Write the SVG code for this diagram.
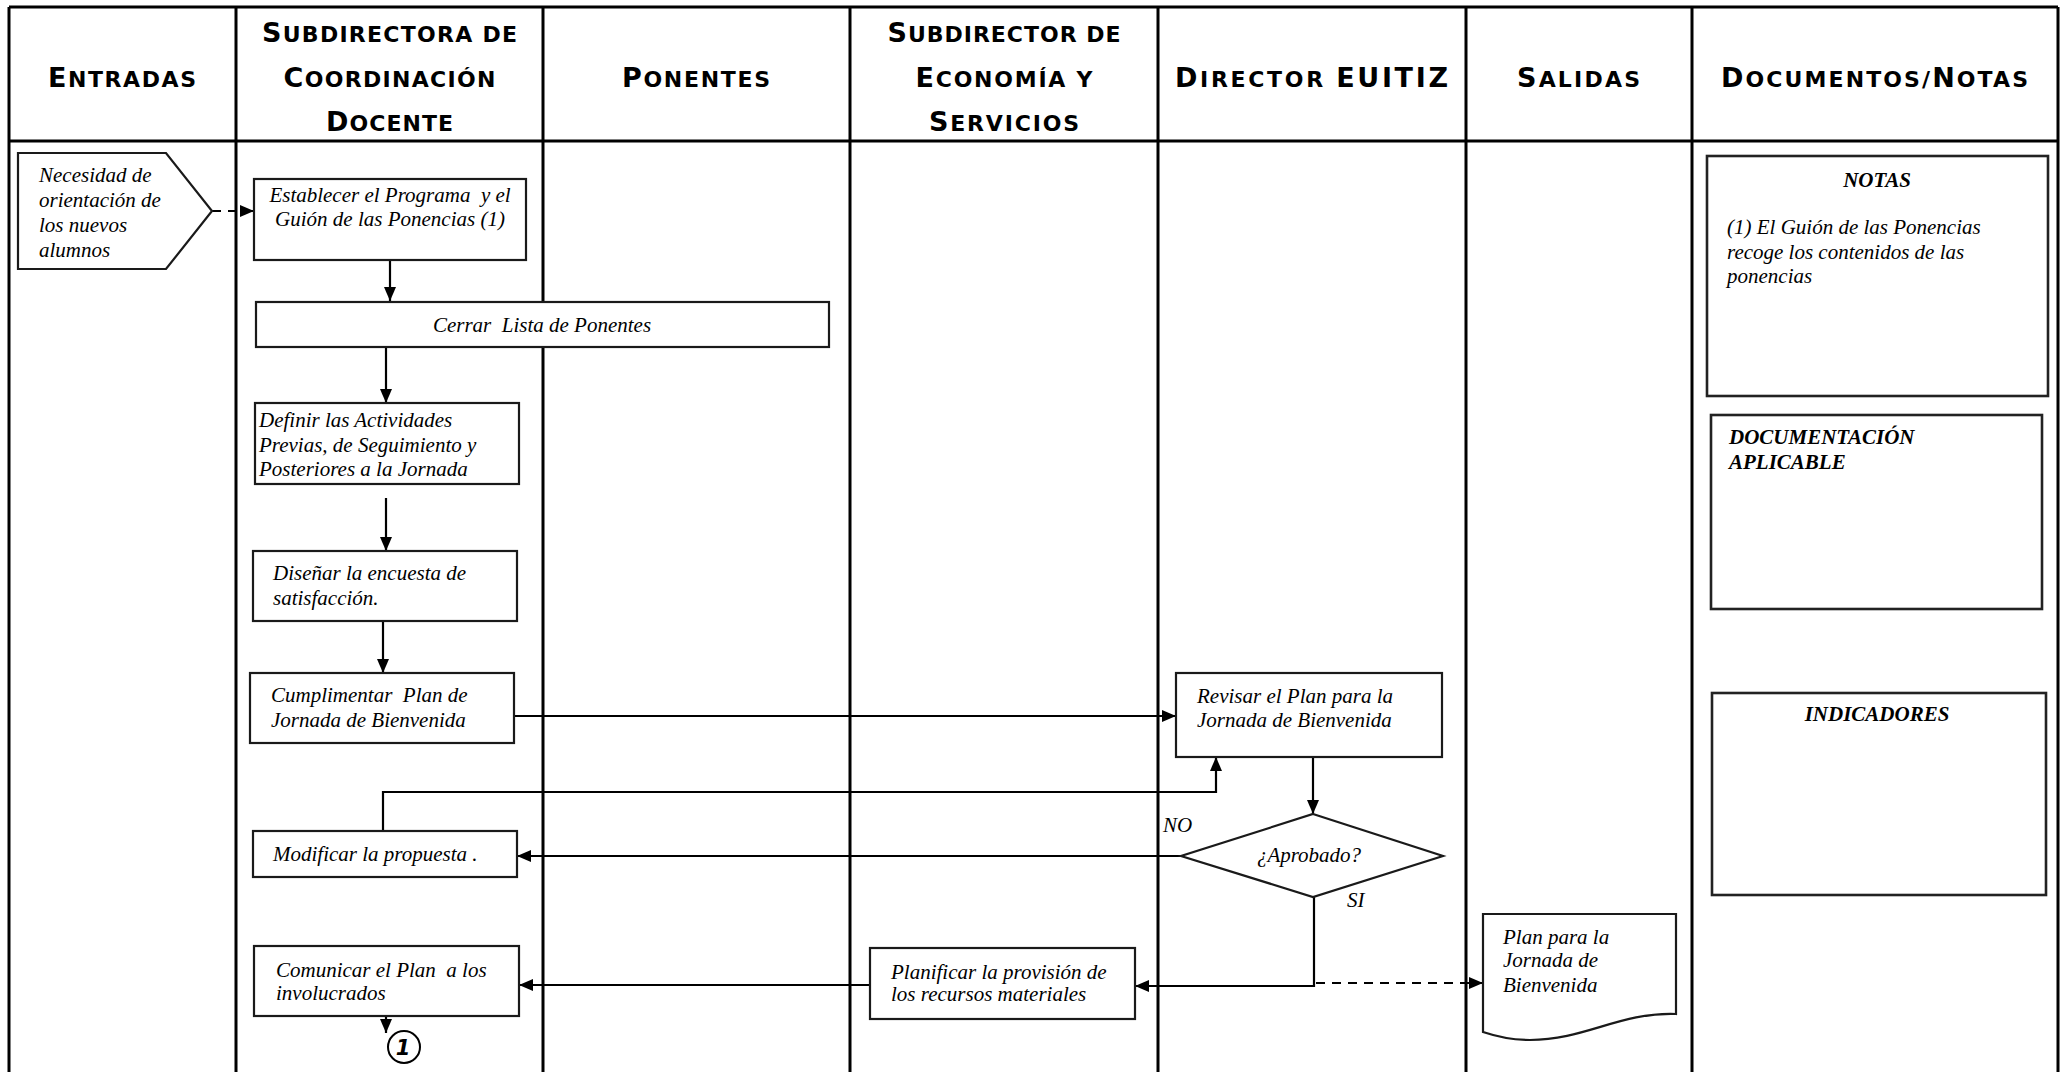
<svg xmlns="http://www.w3.org/2000/svg" width="2064" height="1072" viewBox="0 0 2064 1072">
<defs>
<style>
.grid{stroke:#000;stroke-width:3;fill:none}
.hd{font-family:"DejaVu Sans","Liberation Sans",sans-serif;font-weight:bold;font-size:22px;fill:#000;text-anchor:middle}
.big{font-size:27px}
.box{fill:#fff;stroke:#1a1a1a;stroke-width:2.2}
.nbox{fill:#fff;stroke:#222;stroke-width:2.6}
.t{font-family:"Liberation Serif","Times New Roman",serif;font-style:italic;font-size:21px;fill:#000}
.tc{text-anchor:middle}
.tb{font-weight:bold}
.pre{white-space:pre}
.con{fill:none;stroke:#000;stroke-width:2.2}
.dash{stroke-dasharray:9,7}
</style>
<marker id="ah" viewBox="0 0 14 12" refX="14" refY="6" markerWidth="14" markerHeight="12" orient="auto" markerUnits="userSpaceOnUse">
<path d="M0,0 L14,6 L0,12 z" fill="#000"/>
</marker>
</defs>
<rect x="0" y="0" width="2064" height="1072" fill="#fff"/>

<g id="grid">
<line class="grid" x1="9" y1="7" x2="2058" y2="7"/>
<line class="grid" x1="9" y1="141" x2="2058" y2="141"/>
<line class="grid" x1="9" y1="7" x2="9" y2="1072"/>
<line class="grid" x1="236" y1="7" x2="236" y2="1072"/>
<line class="grid" x1="543" y1="7" x2="543" y2="1072"/>
<line class="grid" x1="850" y1="7" x2="850" y2="1072"/>
<line class="grid" x1="1158" y1="7" x2="1158" y2="1072"/>
<line class="grid" x1="1466" y1="7" x2="1466" y2="1072"/>
<line class="grid" x1="1692" y1="7" x2="1692" y2="1072"/>
<line class="grid" x1="2058" y1="7" x2="2058" y2="1072"/>
</g>

<g id="headers">
<text class="hd" x="122" y="87" textLength="148"><tspan class="big">E</tspan>NTRADAS</text>
<text class="hd" x="389.5" y="42" textLength="255"><tspan class="big">S</tspan>UBDIRECTORA DE</text>
<text class="hd" x="389.5" y="87" textLength="212"><tspan class="big">C</tspan>OORDINACIÓN</text>
<text class="hd" x="389.5" y="131" textLength="127"><tspan class="big">D</tspan>OCENTE</text>
<text class="hd" x="696" y="87" textLength="148"><tspan class="big">P</tspan>ONENTES</text>
<text class="hd" x="1004" y="42" textLength="233"><tspan class="big">S</tspan>UBDIRECTOR DE</text>
<text class="hd" x="1004" y="87" textLength="177"><tspan class="big">E</tspan>CONOMÍA Y</text>
<text class="hd" x="1004" y="131" textLength="150"><tspan class="big">S</tspan>ERVICIOS</text>
<text class="hd" x="1311.5" y="87" textLength="273"><tspan class="big">D</tspan>IRECTOR <tspan class="big">EUITIZ</tspan></text>
<text class="hd" x="1578.5" y="87" textLength="123"><tspan class="big">S</tspan>ALIDAS</text>
<text class="hd" x="1874.5" y="87" textLength="307"><tspan class="big">D</tspan>OCUMENTOS/<tspan class="big">N</tspan>OTAS</text>
</g>

<g id="connectors">
<path class="con dash" d="M212,211 L254,211" marker-end="url(#ah)"/>
<path class="con" d="M390,260 L390,301" marker-end="url(#ah)"/>
<path class="con" d="M386,347 L386,403" marker-end="url(#ah)"/>
<path class="con" d="M386,498 L386,551" marker-end="url(#ah)"/>
<path class="con" d="M383,621 L383,673" marker-end="url(#ah)"/>
<path class="con" d="M513,716 L1176,716" marker-end="url(#ah)"/>
<path class="con" d="M383,831 L383,792 L1216,792 L1216,757" marker-end="url(#ah)"/>
<path class="con" d="M1313,757 L1313,814" marker-end="url(#ah)"/>
<path class="con" d="M1181,856 L517,856" marker-end="url(#ah)"/>
<path class="con" d="M1314,897 L1314,986 L1135,986" marker-end="url(#ah)"/>
<path class="con dash" d="M1316,983 L1483,983" marker-end="url(#ah)"/>
<path class="con" d="M870,985 L519,985" marker-end="url(#ah)"/>
<path class="con" d="M386,1016 L386,1033" marker-end="url(#ah)"/>
<text class="t" x="1163" y="832">NO</text>
<text class="t" x="1347" y="907">SI</text>
</g>

<g id="n_necesidad">
<polygon class="box" points="18,153 166,153 212,211 166,269 18,269"/>
<text class="t" x="39" y="182">Necesidad de</text>
<text class="t" x="39" y="207">orientación de</text>
<text class="t" x="39" y="232">los nuevos</text>
<text class="t" x="39" y="257">alumnos</text>
</g>

<g id="n_establecer">
<rect class="box" x="254" y="179" width="272" height="81"/>
<text class="t tc pre" xml:space="preserve" x="390" y="202">Establecer el Programa  y el</text>
<text class="t tc" x="390" y="226">Guión de las Ponencias (1)</text>
</g>

<g id="n_cerrar">
<rect class="box" x="256" y="302" width="573" height="45"/>
<text class="t tc pre" xml:space="preserve" x="542" y="332">Cerrar  Lista de Ponentes</text>
</g>

<g id="n_definir">
<rect class="box" x="255" y="403" width="264" height="81"/>
<text class="t" x="259" y="427">Definir las Actividades</text>
<text class="t" x="259" y="452">Previas, de Seguimiento y</text>
<text class="t" x="259" y="476">Posteriores a la Jornada</text>
</g>

<g id="n_disenar">
<rect class="box" x="253" y="551" width="264" height="70"/>
<text class="t" x="273" y="580">Diseñar la encuesta de</text>
<text class="t" x="273" y="605">satisfacción.</text>
</g>

<g id="n_cumplimentar">
<rect class="box" x="250" y="673" width="264" height="70"/>
<text class="t pre" xml:space="preserve" x="271" y="702">Cumplimentar  Plan de</text>
<text class="t" x="271" y="727">Jornada de Bienvenida</text>
</g>

<g id="n_revisar">
<rect class="box" x="1176" y="673" width="266" height="84"/>
<text class="t" x="1197" y="703">Revisar el Plan para la</text>
<text class="t" x="1197" y="727">Jornada de Bienvenida</text>
</g>

<g id="n_aprobado">
<polygon class="box" points="1313,814 1443,856 1313,897 1181,856"/>
<text class="t tc" x="1309" y="862">¿Aprobado?</text>
</g>

<g id="n_modificar">
<rect class="box" x="253" y="831" width="264" height="46"/>
<text class="t" x="273" y="861">Modificar la propuesta .</text>
</g>

<g id="n_planificar">
<rect class="box" x="870" y="948" width="265" height="71"/>
<text class="t" x="891" y="979">Planificar la provisión de</text>
<text class="t" x="891" y="1001">los recursos materiales</text>
</g>

<g id="n_comunicar">
<rect class="box" x="254" y="946" width="265" height="70"/>
<text class="t pre" xml:space="preserve" x="276" y="977">Comunicar el Plan  a los</text>
<text class="t" x="276" y="1000">involucrados</text>
</g>

<g id="n_conector1">
<circle cx="404" cy="1047" r="16" fill="#fff" stroke="#000" stroke-width="2"/>
<text x="403" y="1055" text-anchor="middle" font-family="DejaVu Sans, sans-serif" font-weight="bold" font-style="italic" font-size="21">1</text>
</g>

<g id="n_plan_doc">
<path class="box" d="M1483,914 L1676,914 L1676,1014 C1620,1012 1585,1040 1530,1040 C1510,1040 1495,1036 1483,1032 Z"/>
<text class="t" x="1503" y="944">Plan para la</text>
<text class="t" x="1503" y="967">Jornada de</text>
<text class="t" x="1503" y="992">Bienvenida</text>
</g>

<g id="n_notas">
<rect class="nbox" x="1707" y="156" width="341" height="240"/>
<text class="t tb tc" x="1877" y="187">NOTAS</text>
<text class="t" x="1727" y="234">(1) El Guión de las Ponencias</text>
<text class="t" x="1727" y="259">recoge los contenidos de las</text>
<text class="t" x="1727" y="283">ponencias</text>
</g>

<g id="n_documentacion">
<rect class="nbox" x="1711" y="415" width="331" height="194"/>
<text class="t tb" x="1729" y="444">DOCUMENTACIÓN</text>
<text class="t tb" x="1729" y="469">APLICABLE</text>
</g>

<g id="n_indicadores">
<rect class="nbox" x="1712" y="693" width="334" height="202"/>
<text class="t tb tc" x="1877" y="721">INDICADORES</text>
</g>
</svg>
